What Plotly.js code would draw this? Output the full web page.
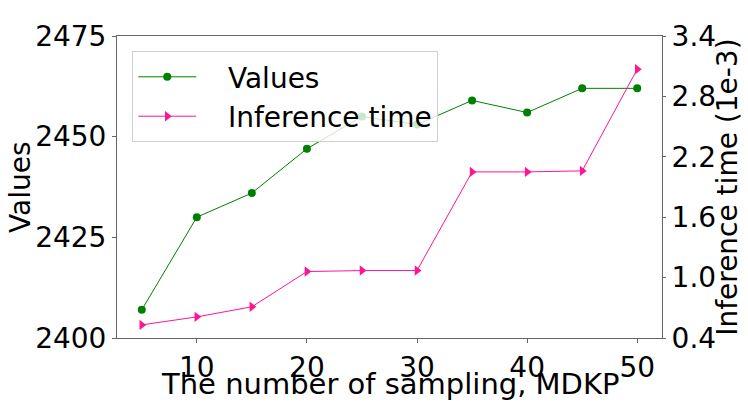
<!DOCTYPE html>
<html>
<head>
<meta charset="utf-8">
<script src="https://cdn.plot.ly/plotly-3.0.1.min.js"></script>
<style>
  html, body { margin: 0; padding: 0; background: #fff; }
  #graphDiv { width: 748px; height: 404px; }
</style>
</head>
<body>
<div id="graphDiv"></div>
<script>
const samples = [5, 10, 15, 20, 25, 30, 35, 40, 45, 50];                 // sampling number
const values = [2407, 2430, 2436, 2447, 2455, 2453, 2459, 2456, 2462, 2462];
const inferTime = [0.53, 0.61, 0.71, 1.06, 1.07, 1.07, 2.05, 2.05, 2.06, 3.07]; // 1e-3
const valueTicks = [2400, 2425, 2450, 2475];
const timeTicks = [0.4, 1.0, 1.6, 2.2, 2.8, 3.4];
const sampleTicks = [10, 20, 30, 40, 50];

drawGraph();

function drawGraph(){
    const font = 'DejaVu Sans, sans-serif';
    const axisColor = '#666';
    const pad = '\u00a0\u00a0\u00a0';   // gap between legend handle and text

    const trace1 = {
      x: samples,
      y: values,
      mode: 'lines+markers',
      type: 'scatter',
      name: pad + 'Values',
      line: {color: 'green', width: 1},
      marker: {color: 'green', size: 8, symbol: 'circle'},
      yaxis: 'y'
    };

    const trace2 = {
      x: samples,
      y: inferTime,
      mode: 'lines+markers',
      type: 'scatter',
      name: pad + 'Inference time',
      line: {color: '#ff1493', width: 1},
      marker: {color: '#ff1493', size: 9, symbol: 'triangle-right'},
      yaxis: 'y2'
    };

    // axis titles as annotations so they sit where the reference has them
    const title = (text, x, y, angle, size) => ({
      text: text, xref: 'paper', yref: 'paper', x: x, y: y,
      xanchor: 'center', yanchor: 'middle', textangle: angle,
      showarrow: false, font: {family: font, size: size, color: '#000'}
    });

    let layout = {
        width: 748,
        height: 404,
        margin: {l: 117, r: 86, t: 36, b: 66},
        paper_bgcolor: '#fff',
        plot_bgcolor: '#fff',
        font: {family: font, size: 28, color: '#000'},
        showlegend: true,
        legend: {
            x: 0.028, y: 0.95, xanchor: 'left', yanchor: 'top',
            bgcolor: 'rgba(255,255,255,0.8)',
            bordercolor: '#d0d0d0',
            borderwidth: 1,
            itemwidth: 58,
            font: {family: font, size: 28, color: '#000'},
            tracegroupgap: 4
        },
        annotations: [
            title('The number of sampling, MDKP', 0.5, -0.152, 0, 29),
            title('Values', -0.178, 0.5, -90, 28),
            title('Inference time (1e-3)', 1.119, 0.5, -90, 28)
        ],
        xaxis: {
            range: [2.75, 52.25],
            tickvals: sampleTicks,
            showgrid: false,
            zeroline: false,
            showline: true,
            mirror: true,
            linecolor: axisColor,
            linewidth: 1,
            ticks: 'outside',
            ticklen: 4,
            tickcolor: axisColor,
            tickfont: {family: font, size: 28}
        },
        yaxis: {
            range: [2400, 2475],
            tickvals: valueTicks,
            showgrid: false,
            zeroline: false,
            showline: true,
            linecolor: axisColor,
            linewidth: 1,
            ticks: 'outside',
            ticklen: 4,
            tickcolor: axisColor,
            tickfont: {family: font, size: 28}
        },
        yaxis2: {
            overlaying: 'y',
            side: 'right',
            range: [0.4, 3.4],
            tickvals: timeTicks,
            tickformat: '.1f',
            showgrid: false,
            zeroline: false,
            showline: true,
            linecolor: axisColor,
            linewidth: 1,
            ticks: 'outside',
            ticklen: 3,
            tickcolor: axisColor,
            tickfont: {family: font, size: 28}
        }
    };

    Plotly.newPlot('graphDiv', [trace1, trace2], layout, {staticPlot: true});
}
</script>
</body>
</html>
